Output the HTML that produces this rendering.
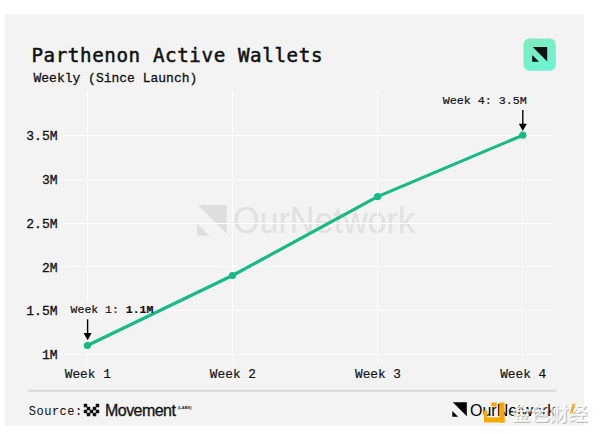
<!DOCTYPE html>
<html><head><meta charset="utf-8">
<style>
html,body{margin:0;padding:0;background:#fff;width:600px;height:434px;overflow:hidden;}
#panel{position:absolute;left:5px;top:14px;width:579px;height:412px;background:#f3f3f3;}
.mono{font-family:"Liberation Mono","DejaVu Sans Mono",monospace;color:#111;}
.abs{position:absolute;white-space:pre;}
#title{left:31.4px;top:44.2px;letter-spacing:0.6px;font-family:"DejaVu Sans Mono","Liberation Mono",monospace;font-size:19.2px;line-height:24px;-webkit-text-stroke:0.5px #111;}
#sub{left:33.5px;top:71px;font-size:13px;line-height:16px;-webkit-text-stroke:0.3px #111;}
svg{position:absolute;left:0;top:0;}
</style></head><body>
<div id="panel"></div>
<svg width="600" height="434" viewBox="0 0 600 434">
  <!-- watermark -->
  <g fill="#dedede">
    <polygon points="198,205 226.7,205 226.7,233.7"/>
    <polygon points="197.2,223.5 197.2,235.5 209.2,235.5"/>
  </g>
  <text x="233" y="232.8" font-family="Liberation Sans, sans-serif" font-size="36.3" fill="#e1e1e1" textLength="182" lengthAdjust="spacingAndGlyphs">OurNetwork</text>
  <!-- grid -->
  <g stroke="#ffffff" stroke-width="1">
    <line x1="60" y1="135.5" x2="552" y2="135.5"/>
    <line x1="60" y1="179.5" x2="552" y2="179.5"/>
    <line x1="60" y1="223.5" x2="552" y2="223.5"/>
    <line x1="60" y1="266.5" x2="552" y2="266.5"/>
    <line x1="60" y1="310.5" x2="552" y2="310.5"/>
    <line x1="60" y1="354.5" x2="552" y2="354.5"/>
    <line x1="87.5" y1="91" x2="87.5" y2="363"/>
    <line x1="232.5" y1="91" x2="232.5" y2="363"/>
    <line x1="377.5" y1="91" x2="377.5" y2="363"/>
    <line x1="522.5" y1="91" x2="522.5" y2="363"/>
  </g>
  <!-- y labels -->
  <g font-family="Liberation Mono, monospace" font-size="13" fill="#111" stroke="#111" stroke-width="0.3" text-anchor="end" transform="translate(0.5,0.4)">
    <text x="57" y="139.8">3.5M</text>
    <text x="57" y="183.6">3M</text>
    <text x="57" y="227.4">2.5M</text>
    <text x="57" y="271.2">2M</text>
    <text x="57" y="315.1">1.5M</text>
    <text x="57" y="358.9">1M</text>
  </g>
  <!-- x labels -->
  <g font-family="Liberation Mono, monospace" font-size="12.8" fill="#111" stroke="#111" stroke-width="0.18" text-anchor="middle" transform="translate(0.2,0.3)">
    <text x="87.6" y="377.6">Week 1</text>
    <text x="232.7" y="377.6">Week 2</text>
    <text x="377.8" y="377.6">Week 3</text>
    <text x="523" y="377.6">Week 4</text>
  </g>
  <!-- line -->
  <rect x="69" y="301.5" width="86" height="16.5" fill="#f3f3f3"/>
  <rect x="441" y="91" width="87" height="17" fill="#f3f3f3"/>
  <polyline points="87.4,345.5 232.5,275.5 377.6,196.6 522.8,135.2" fill="none" stroke="#18b985" stroke-width="3.2" stroke-linejoin="round"/>
  <g fill="#18b985">
    <circle cx="87.4" cy="345.5" r="3.6"/>
    <circle cx="232.5" cy="275.5" r="3.6"/>
    <circle cx="377.6" cy="196.6" r="3.6"/>
    <circle cx="522.8" cy="135.2" r="3.6"/>
  </g>
  <!-- annotations -->
  <g stroke="#000" stroke-width="1.4">
    <line x1="87.6" y1="319.3" x2="87.6" y2="334.5"/>
    <line x1="522.8" y1="110" x2="522.8" y2="125.5"/>
  </g>
  <g fill="#000">
    <polygon points="83.6,333 91.6,333 87.6,340.3"/>
    <polygon points="518.8,123.7 526.8,123.7 522.8,130.9"/>
  </g>
  <text x="70.6" y="312.9" font-family="Liberation Mono, monospace" font-size="11.5" fill="#111" stroke="#111" stroke-width="0.2">Week 1: <tspan font-weight="bold">1.1M</tspan></text>
  <text x="442.7" y="104.1" font-family="Liberation Mono, monospace" font-size="11.7" fill="#111" stroke="#111" stroke-width="0.2">Week 4: 3.5M</text>
  <!-- separator -->
  <line x1="27.5" y1="390.8" x2="556.7" y2="390.8" stroke="#d9d9d9" stroke-width="2"/>
  <!-- logo -->
  <defs>
    <linearGradient id="lg" x1="0" y1="0" x2="0.4" y2="1">
      <stop offset="0" stop-color="#80eabb"/>
      <stop offset="1" stop-color="#6ef4d2"/>
    </linearGradient>
  </defs>
  <rect x="523.5" y="38.5" width="32.3" height="32.3" rx="6" fill="url(#lg)"/>
  <g fill="#111">
    <polygon points="532.8,47 547.2,47 547.2,61.4"/>
    <polygon points="532.2,55 532.2,61.8 539,61.8"/>
  </g>
  <!-- footer -->
  <text x="28.8" y="414.6" font-family="Liberation Mono, monospace" font-size="12" letter-spacing="0.5" fill="#111" stroke="#111" stroke-width="0.05">Source:</text>
  <g fill="#111"><rect x="83.75" y="403.85" width="3.5" height="3.5" rx="0.6"/><rect x="95.75" y="403.85" width="3.5" height="3.5" rx="0.6"/><rect x="86.75" y="406.85" width="3.5" height="3.5" rx="0.6"/><rect x="92.75" y="406.85" width="3.5" height="3.5" rx="0.6"/><rect x="83.75" y="409.85" width="3.5" height="3.5" rx="0.6"/><rect x="89.75" y="409.85" width="3.5" height="3.5" rx="0.6"/><rect x="95.75" y="409.85" width="3.5" height="3.5" rx="0.6"/><rect x="86.75" y="412.85" width="3.5" height="3.5" rx="0.6"/><rect x="92.75" y="412.85" width="3.5" height="3.5" rx="0.6"/></g>
  <text x="105" y="416" font-family="Liberation Sans, sans-serif" font-size="16" fill="#111" stroke="#111" stroke-width="0.3" letter-spacing="-0.55">Movement</text>
  <text x="178" y="409" font-family="Liberation Sans, sans-serif" font-size="4" font-weight="bold" fill="#222">(LABS)</text>
  <!-- OurNetwork footer -->
  <g fill="#000">
    <polygon points="452.8,402.3 466.8,402.3 466.8,416.3"/>
    <polygon points="452.3,410.9 452.3,416.8 458.2,416.8"/>
  </g>
  <text x="470" y="415.7" font-family="Liberation Sans, sans-serif" font-size="16" fill="#000">OurNetwork</text>
  <g fill="#f7a800">
    <rect x="484" y="417.4" width="20.5" height="5"/>
    <rect x="499.3" y="402.5" width="5.2" height="20"/>
    <rect x="491.2" y="402.5" width="5.5" height="4"/>
    <rect x="484" y="410.6" width="3.2" height="7"/>
  </g>
  <text x="511.5" y="421" font-family="Liberation Sans, 'Noto Sans CJK SC', sans-serif" font-size="19" font-weight="bold" fill="#777" opacity="0.45" transform="translate(0.9,1)">金色财经</text>
  <text x="511.5" y="421" font-family="Liberation Sans, 'Noto Sans CJK SC', sans-serif" font-size="19" font-weight="bold" fill="#fff" opacity="0.8">金色财经</text>
  <polygon points="572.3,403.8 575.3,403.8 572.6,413.5 569.8,413.5" fill="#f1b531"/>
</svg>
<div class="abs mono" id="title">Parthenon Active Wallets</div>
<div class="abs mono" id="sub">Weekly (Since Launch)</div>
</body></html>
